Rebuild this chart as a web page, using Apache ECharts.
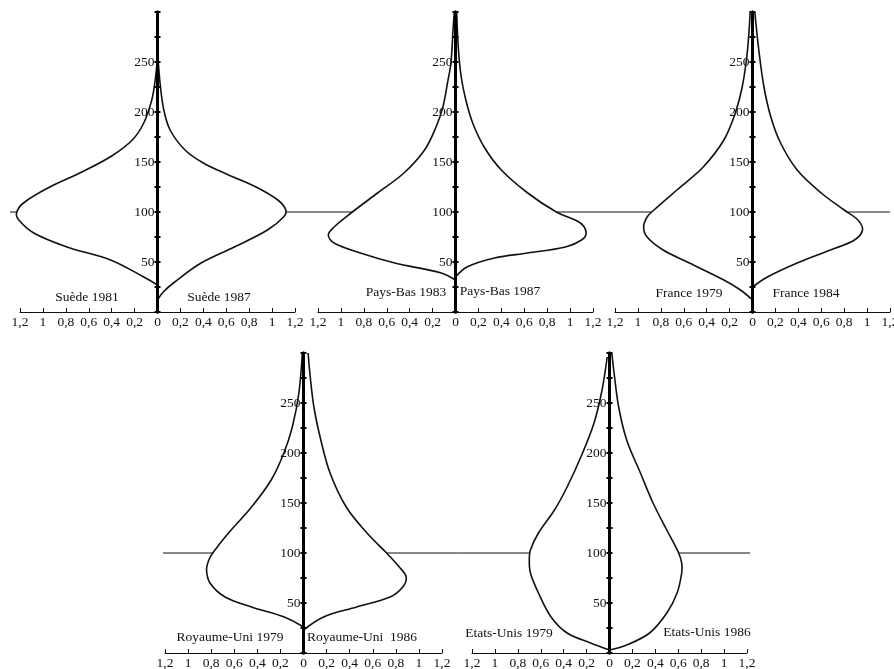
<!DOCTYPE html>
<html>
<head>
<meta charset="utf-8">
<title>Distributions des revenus</title>
<script src="https://cdn.jsdelivr.net/npm/echarts@6/dist/echarts.min.js"></script>
<style>
  html, body { margin: 0; padding: 0; background: #fff; }
  #chart { width: 894px; height: 669px; }
</style>
</head>
<body>
<div id="chart"></div>
<script>
// density curves: [income level, density]
var sweden1981 = [[27,0],[35,0.12],[52,0.41],[65,0.79],[79,1.08],[92,1.21],[99,1.23],[109,1.17],[125,0.94],[140,0.66],[156,0.40],[172,0.22],[189,0.12],[212,0.05],[232,0.02],[255,0]];
var sweden1987 = [[12,0],[20,0.05],[30,0.15],[49,0.38],[65,0.67],[82,0.96],[95,1.10],[102,1.12],[112,1.05],[125,0.86],[137,0.62],[149,0.40],[162,0.24],[182,0.11],[202,0.055],[225,0.026],[245,0.01],[260,0]];
var netherlands1983 = [[32,0],[39,0.125],[49,0.53],[59,0.83],[69,1.06],[77,1.11],[85,1.06],[100,0.90],[119,0.68],[139,0.45],[162,0.27],[185,0.17],[205,0.11],[229,0.07],[249,0.04],[285,0.02],[300,0.01]];
var netherlands1987 = [[35,0],[45,0.10],[54,0.34],[59,0.63],[65,0.96],[72,1.10],[79,1.14],[89,1.09],[100,0.88],[119,0.63],[142,0.40],[165,0.25],[189,0.15],[212,0.09],[235,0.05],[262,0.026],[300,0.01]];
var france1979 = [[12,0],[22,0.105],[32,0.25],[49,0.55],[62,0.78],[75,0.92],[85,0.95],[95,0.92],[102,0.86],[122,0.66],[145,0.43],[172,0.25],[199,0.15],[225,0.09],[259,0.046],[300,0.02]];
var france1984 = [[25,0],[35,0.13],[49,0.39],[62,0.68],[72,0.89],[82,0.96],[92,0.92],[102,0.80],[119,0.60],[142,0.39],[169,0.245],[195,0.16],[225,0.10],[262,0.055],[300,0.02]];
var uk1979 = [[26,0],[36,0.167],[46,0.45],[56,0.68],[70,0.81],[83,0.84],[93,0.82],[101,0.78],[120,0.65],[146,0.45],[173,0.28],[200,0.17],[226,0.097],[260,0.04],[300,0.01]];
var uk1986 = [[23,0],[36,0.174],[46,0.46],[56,0.75],[66,0.86],[76,0.89],[86,0.83],[100,0.72],[120,0.55],[146,0.37],[180,0.23],[213,0.15],[246,0.09],[280,0.055],[300,0.04]];
var usa1979 = [[3,0],[10,0.165],[20,0.37],[36,0.51],[60,0.62],[80,0.69],[93,0.70],[103,0.69],[120,0.62],[143,0.48],[166,0.37],[196,0.25],[230,0.135],[263,0.065],[296,0.02]];
var usa1986 = [[3,0],[8,0.15],[20,0.35],[40,0.50],[60,0.59],[80,0.63],[90,0.63],[101,0.60],[123,0.50],[150,0.38],[180,0.27],[213,0.15],[246,0.08],[280,0.04],[300,0.02]];

var curveLabels = [
  ['Suède 1981', 'Suède 1987'],
  ['Pays-Bas 1983', 'Pays-Bas 1987'],
  ['France 1979', 'France 1984'],
  ['Royaume-Uni 1979', 'Royaume-Uni  1986'],
  ['Etats-Unis 1979', 'Etats-Unis 1986']
];
var curves = [
  [sweden1981, sweden1987],
  [netherlands1983, netherlands1987],
  [france1979, france1984],
  [uk1979, uk1986],
  [usa1979, usa1986]
];
var medianIncome = 100;
var incomeMax = 300;
var densityMax = 1.2;

// layout (pixels)
var rows = [
  { left: 10, width: 880, top: 12 },
  { left: 163, width: 587, top: 353 }
];
var panels = [
  { left: 20, width: 275, row: 0, labelPos: [[87, 297], [219, 297]] },
  { left: 318, width: 275, row: 0, labelPos: [[406, 292], [500, 291]] },
  { left: 615, width: 275, row: 0, labelPos: [[689, 293], [806, 293]] },
  { left: 165, width: 277, row: 1, labelPos: [[230, 637], [362, 637]] },
  { left: 472, width: 275, row: 1, labelPos: [[509, 633], [707, 632]] }
];

var FONT = "'Liberation Serif', 'DejaVu Serif', serif";
var INK = '#111';

var grids = [], xAxes = [], yAxes = [], series = [], graphics = [];

rows.forEach(function (r, i) {
  grids.push({ left: r.left, width: r.width, top: r.top, height: 300, outerBoundsMode: 'none' });
  xAxes.push({ gridIndex: i, type: 'value', min: 0, max: 1, show: false });
  yAxes.push({ gridIndex: i, type: 'value', min: 0, max: incomeMax, show: false });
  series.push({
    type: 'line', xAxisIndex: i, yAxisIndex: i, symbol: 'none', silent: true, z: 1,
    lineStyle: { color: INK, width: 1 },
    data: [[0, medianIncome], [1, medianIncome]]
  });
});

function fmtDensity(v) {
  var a = Math.abs(Math.round(v * 10) / 10);
  return String(a).replace('.', ',');
}

panels.forEach(function (p, k) {
  var g = grids.length;
  var r = rows[p.row];
  grids.push({ left: p.left, width: p.width, top: r.top, height: 300, outerBoundsMode: 'none' });
  xAxes.push({
    gridIndex: g, type: 'value', min: -densityMax, max: densityMax, interval: 0.2, z: 5,
    axisLine: { onZero: false, lineStyle: { color: INK, width: 1 } },
    axisTick: { inside: true, length: 4, lineStyle: { color: INK } },
    axisLabel: { margin: 3, color: INK, fontFamily: FONT, fontSize: 13.5, showMinLabel: true, showMaxLabel: true, formatter: fmtDensity },
    splitLine: { show: false }
  });
  var yIdx = yAxes.length;
  // income axis sits in the middle of the panel (density 0)
  yAxes.push({
    gridIndex: g, type: 'value', min: 0, max: incomeMax, interval: 25, z: 5,
    position: 'left', offset: -p.width / 2,
    axisLine: { onZero: false, lineStyle: { color: '#000', width: 3 } },
    axisTick: { length: 3, lineStyle: { color: '#000', width: 2 } },
    axisLabel: {
      margin: 3, color: INK, fontFamily: FONT, fontSize: 13.5,
      formatter: function (v) { return (v % 50 === 0 && v > 0 && v < incomeMax) ? v : ''; }
    },
    splitLine: { show: false }
  });
  yAxes.push({
    gridIndex: g, type: 'value', min: 0, max: incomeMax, interval: 25, z: 5,
    position: 'right', offset: -p.width / 2,
    axisLine: { onZero: false, lineStyle: { color: '#000', width: 3 } },
    axisTick: { length: 3, lineStyle: { color: '#000', width: 2 } },
    axisLabel: { show: false },
    splitLine: { show: false }
  });

  curves[k].forEach(function (pts, side) {
    var sign = side === 0 ? -1 : 1;
    var data = pts.map(function (d) { return [sign * d[1], d[0]]; });
    series.push({
      type: 'custom', xAxisIndex: g, yAxisIndex: yIdx, z: 3, silent: true,
      data: data,
      renderItem: function (params, api) {
        if (params.dataIndex !== 0) return;
        var coords = data.map(function (d) { return api.coord(d); });
        return {
          type: 'group',
          children: [
            { type: 'polygon', shape: { points: coords, smooth: 0.35 }, style: { fill: '#fff', stroke: null } },
            { type: 'polyline', shape: { points: coords, smooth: 0.35 }, style: { fill: null, stroke: INK, lineWidth: 1.6 } }
          ]
        };
      }
    });
    graphics.push({
      type: 'text', x: p.labelPos[side][0], y: p.labelPos[side][1], z: 10,
      style: { text: curveLabels[k][side], font: '13.5px ' + FONT, fill: INK, textAlign: 'center', textVerticalAlign: 'middle' }
    });
  });
});

var chart = echarts.init(document.getElementById('chart'));
chart.setOption({
  backgroundColor: '#fff',
  animation: false,
  grid: grids,
  xAxis: xAxes,
  yAxis: yAxes,
  series: series,
  graphic: graphics
});
</script>
</body>
</html>
